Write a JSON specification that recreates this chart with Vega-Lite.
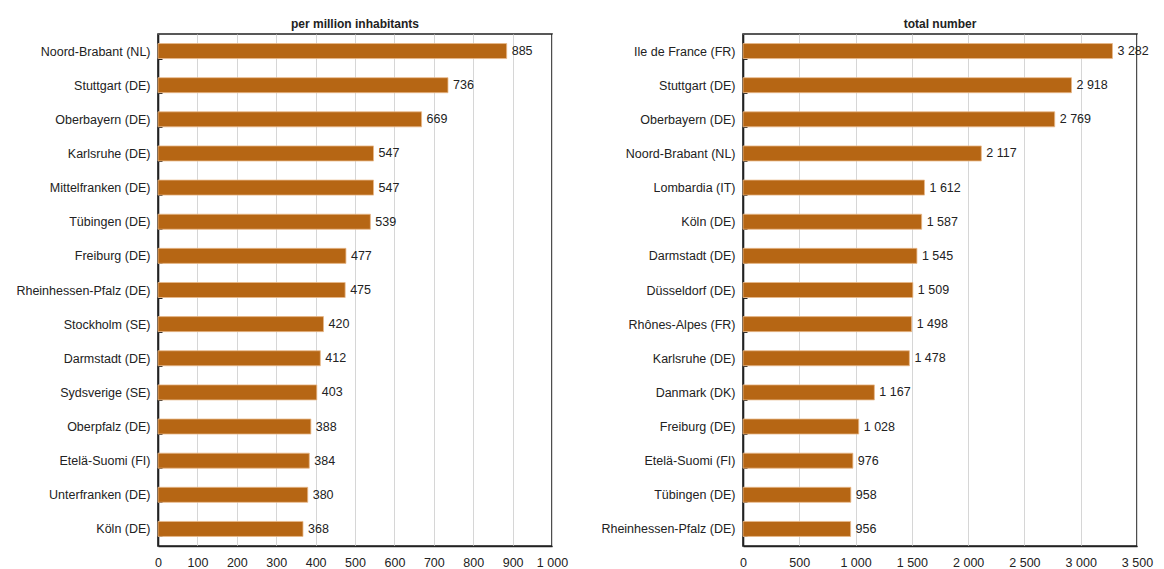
{
  "$schema": "https://vega.github.io/schema/vega-lite/v6.json",
  "padding": {"left": 7, "top": 17, "right": 0, "bottom": 0},
  "spacing": 23,
  "config": {
    "font": "Liberation Sans",
    "locale": {"number": {"decimal": ",", "thousands": " ", "grouping": [3], "currency": ["", ""]}},
    "view": {"stroke": "#222", "strokeWidth": 1.6},
    "title": {"fontSize": 12, "fontWeight": "bold", "color": "#222", "offset": -3, "anchor": "middle"},
    "axis": {"labelFont": "Liberation Sans", "labelFontSize": 12.5, "labelColor": "#222", "domainColor": "#222", "domainWidth": 1.6, "tickColor": "#222", "title": null}
  },
  "datasets": {
    "permillion": [
      {"region": "Noord-Brabant (NL)", "value": 885},
      {"region": "Stuttgart (DE)", "value": 736},
      {"region": "Oberbayern (DE)", "value": 669},
      {"region": "Karlsruhe (DE)", "value": 547},
      {"region": "Mittelfranken (DE)", "value": 547},
      {"region": "Tübingen (DE)", "value": 539},
      {"region": "Freiburg (DE)", "value": 477},
      {"region": "Rheinhessen-Pfalz (DE)", "value": 475},
      {"region": "Stockholm (SE)", "value": 420},
      {"region": "Darmstadt (DE)", "value": 412},
      {"region": "Sydsverige (SE)", "value": 403},
      {"region": "Oberpfalz (DE)", "value": 388},
      {"region": "Etelä-Suomi (FI)", "value": 384},
      {"region": "Unterfranken (DE)", "value": 380},
      {"region": "Köln (DE)", "value": 368}
    ],
    "total": [
      {"region": "Ile de France (FR)", "value": 3282},
      {"region": "Stuttgart (DE)", "value": 2918},
      {"region": "Oberbayern (DE)", "value": 2769},
      {"region": "Noord-Brabant (NL)", "value": 2117},
      {"region": "Lombardia (IT)", "value": 1612},
      {"region": "Köln (DE)", "value": 1587},
      {"region": "Darmstadt (DE)", "value": 1545},
      {"region": "Düsseldorf (DE)", "value": 1509},
      {"region": "Rhônes-Alpes (FR)", "value": 1498},
      {"region": "Karlsruhe (DE)", "value": 1478},
      {"region": "Danmark (DK)", "value": 1167},
      {"region": "Freiburg (DE)", "value": 1028},
      {"region": "Etelä-Suomi (FI)", "value": 976},
      {"region": "Tübingen (DE)", "value": 958},
      {"region": "Rheinhessen-Pfalz (DE)", "value": 956}
    ]
  },
  "hconcat": [
    {
      "title": "per million inhabitants",
      "width": 394,
      "height": 512,
      "data": {"name": "permillion"},
      "encoding": {
        "y": {"field": "region", "type": "nominal", "sort": null,
          "scale": {"paddingInner": 0.56, "paddingOuter": 0.28},
          "axis": {"minExtent": 150, "maxExtent": 150, "tickBand": "extent", "tickSize": -4, "labelPadding": 12, "domain": true}},
        "x": {"field": "value", "type": "quantitative", "scale": {"domain": [0, 1000], "nice": false},
          "axis": {"values": [0,100,200,300,400,500,600,700,800,900,1000], "format": ",d", "tickSize": 0, "labelPadding": 10, "gridColor": "#d6d6d6", "gridWidth": 1, "labelFlush": false}}
      },
      "layer": [
        {"mark": {"type": "bar", "color": "#b66614", "stroke": "#e9b98a", "strokeWidth": 0.8}},
        {"mark": {"type": "text", "align": "left", "dx": 5, "fontSize": 12.5, "color": "#222", "font": "Liberation Sans"},
          "encoding": {"text": {"field": "value", "type": "quantitative", "format": ",d"}}}
      ]
    },
    {
      "title": "total number",
      "width": 394,
      "height": 512,
      "data": {"name": "total"},
      "encoding": {
        "y": {"field": "region", "type": "nominal", "sort": null,
          "scale": {"paddingInner": 0.56, "paddingOuter": 0.28},
          "axis": {"minExtent": 150, "maxExtent": 150, "tickBand": "extent", "tickSize": -4, "labelPadding": 12, "domain": true}},
        "x": {"field": "value", "type": "quantitative", "scale": {"domain": [0, 3500], "nice": false},
          "axis": {"values": [0,500,1000,1500,2000,2500,3000,3500], "format": ",d", "tickSize": 0, "labelPadding": 10, "gridColor": "#d6d6d6", "gridWidth": 1, "labelFlush": false}}
      },
      "layer": [
        {"mark": {"type": "bar", "color": "#b66614", "stroke": "#e9b98a", "strokeWidth": 0.8}},
        {"mark": {"type": "text", "align": "left", "dx": 5, "fontSize": 12.5, "color": "#222", "font": "Liberation Sans"},
          "encoding": {"text": {"field": "value", "type": "quantitative", "format": ",d"}}}
      ]
    }
  ]
}
